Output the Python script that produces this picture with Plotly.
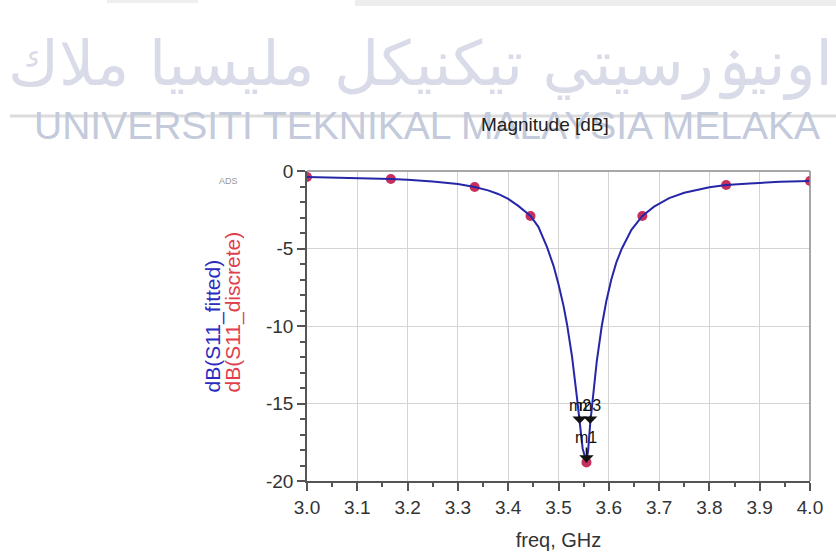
import plotly.graph_objects as go

# Measured (discrete) S11 samples
freq_discrete = [3.0, 3.1667, 3.3333, 3.4444, 3.5556, 3.6667, 3.8333, 4.0]
db_discrete = [-0.39, -0.52, -1.03, -2.9, -18.8, -2.9, -0.9, -0.65]

# Fitted S11 response
freq_fitted = [3.00, 3.05, 3.10, 3.1667, 3.20, 3.25, 3.30, 3.3333, 3.36, 3.38,
               3.40, 3.42, 3.4444, 3.46, 3.477, 3.49, 3.50, 3.51, 3.517, 3.527,
               3.537, 3.542, 3.548, 3.5556, 3.559, 3.563, 3.568, 3.576, 3.586,
               3.595, 3.605, 3.615, 3.626, 3.645, 3.6667, 3.69, 3.72, 3.75,
               3.80, 3.8333, 3.88, 3.94, 4.00]
db_fitted = [-0.39, -0.42, -0.46, -0.52, -0.57, -0.67, -0.84, -1.03, -1.25, -1.48,
             -1.8, -2.25, -2.9, -3.6, -4.9, -6.1, -7.3, -8.7, -9.9, -12.0,
             -14.7, -16.3, -17.9, -18.8, -18.0, -16.3, -14.7, -12.3, -10.0,
             -8.4, -7.0, -5.9, -5.0, -3.8, -2.9, -2.3, -1.75, -1.4,
             -1.05, -0.9, -0.8, -0.7, -0.65]

# Markers placed on the trace
marker_names = ["m1", "m2", "m3"]
marker_freq = [3.5556, 3.542, 3.563]
marker_db = [-18.8, -16.3, -16.3]
marker_offset = [-25, -18, -18]

x_ticks = [3.0, 3.1, 3.2, 3.3, 3.4, 3.5, 3.6, 3.7, 3.8, 3.9, 4.0]
y_ticks = [0, -5, -10, -15, -20]

FONT = "Liberation Sans, Arial, sans-serif"

# plot area in pixels: x 307..810, y 171..481
def px(xp):
    return (xp - 307) / 503

def py(yp):
    return (481 - yp) / 310

fig = go.Figure()
fig.add_trace(go.Scatter(
    x=freq_discrete, y=db_discrete, mode="markers",
    marker=dict(color="#c8305c", size=10, line=dict(width=0)),
    showlegend=False, hoverinfo="skip"))
fig.add_trace(go.Scatter(
    x=freq_fitted, y=db_fitted, mode="lines",
    line=dict(color="#2626a8", width=2),
    showlegend=False, hoverinfo="skip"))

annotations = []
for name, fx, fy, off in zip(marker_names, marker_freq, marker_db, marker_offset):
    annotations.append(dict(
        x=fx, y=fy, xref="x", yref="y", text=name, showarrow=True,
        ax=0, ay=off, arrowhead=1, arrowsize=1.5, arrowwidth=1.6,
        arrowcolor="#111", font=dict(family=FONT, size=16, color="#111")))

# Background watermark text
annotations.append(dict(
    x=px(420), y=py(64), xref="paper", yref="paper",
    xanchor="center", yanchor="middle",
    text="اونيۏرسيتي تيكنيكل مليسيا ملاك", showarrow=False,
    font=dict(family="DejaVu Sans, sans-serif", size=62, color="#d9dce8")))
annotations.append(dict(
    x=px(427), y=py(126), xref="paper", yref="paper",
    xanchor="center", yanchor="middle",
    text="UNIVERSITI TEKNIKAL MALAYSIA MELAKA", showarrow=False,
    font=dict(family=FONT, size=39, color="#c3cadb")))
# Plot title
annotations.append(dict(
    x=px(545), y=py(125), xref="paper", yref="paper",
    xanchor="center", yanchor="middle",
    text="Magnitude [dB]", showarrow=False,
    font=dict(family=FONT, size=19, color="#222")))
annotations.append(dict(
    x=px(228), y=py(181), xref="paper", yref="paper",
    xanchor="center", yanchor="middle",
    text="ADS", showarrow=False,
    font=dict(family=FONT, size=9, color="#999")))
# Y-axis trace labels (rotated, bottom aligned)
annotations.append(dict(
    x=px(212), y=py(395), xref="paper", yref="paper",
    xanchor="center", yanchor="bottom", textangle=-90,
    text="dB(S11_fitted)", showarrow=False,
    font=dict(family=FONT, size=21, color="#2c2cc0")))
annotations.append(dict(
    x=px(232), y=py(395), xref="paper", yref="paper",
    xanchor="center", yanchor="bottom", textangle=-90,
    text="dB(S11_discrete)", showarrow=False,
    font=dict(family=FONT, size=21, color="#e0404c")))

shapes = [
    # frame top and right
    dict(type="line", xref="paper", yref="paper", x0=0, x1=1, y0=1, y1=1,
         line=dict(color="#8a8a8a", width=1.5)),
    dict(type="line", xref="paper", yref="paper", x0=1, x1=1, y0=0, y1=1,
         line=dict(color="#8a8a8a", width=1.5)),
    # separator rule under the watermark
    dict(type="line", xref="paper", yref="paper",
         x0=px(10), x1=px(836), y0=py(116), y1=py(116),
         line=dict(color="#dcdcdc", width=3)),
    # top strips
    dict(type="rect", xref="paper", yref="paper",
         x0=px(355), x1=px(836), y0=py(6), y1=py(-2),
         fillcolor="#ededed", line=dict(width=0)),
    dict(type="rect", xref="paper", yref="paper",
         x0=px(107), x1=px(198), y0=py(3), y1=py(-2),
         fillcolor="#efefef", line=dict(width=0)),
]

fig.update_layout(
    width=836, height=560,
    margin=dict(l=307, r=26, t=171, b=79),
    paper_bgcolor="white", plot_bgcolor="white",
    font=dict(family=FONT, color="#333"),
    annotations=annotations, shapes=shapes,
)
fig.update_xaxes(
    range=[3.0, 4.0], tickvals=x_ticks, ticktext=[f"{v:.1f}" for v in x_ticks],
    showgrid=True, gridcolor="#d4d4d4", gridwidth=1,
    showline=True, linecolor="#555", linewidth=1.5,
    ticks="outside", ticklen=8, tickcolor="#555", tickwidth=1.5,
    minor=dict(dtick=0.05, ticks="outside", ticklen=4, tickcolor="#555", showgrid=False),
    tickfont=dict(size=19, color="#333"),
    title=dict(text="freq, GHz", font=dict(size=20, color="#333"), standoff=16),
    zeroline=False,
)
fig.update_yaxes(
    range=[-20, 0], tickvals=y_ticks, ticktext=[str(v) for v in y_ticks],
    showgrid=True, gridcolor="#d4d4d4", gridwidth=1,
    showline=True, linecolor="#555", linewidth=1.5,
    ticks="outside", ticklen=8, tickcolor="#555", tickwidth=1.5,
    minor=dict(dtick=1, ticks="outside", ticklen=5, tickcolor="#555", showgrid=False),
    tickfont=dict(size=19, color="#333"),
    zeroline=False,
)

fig.write_html("out.html")
